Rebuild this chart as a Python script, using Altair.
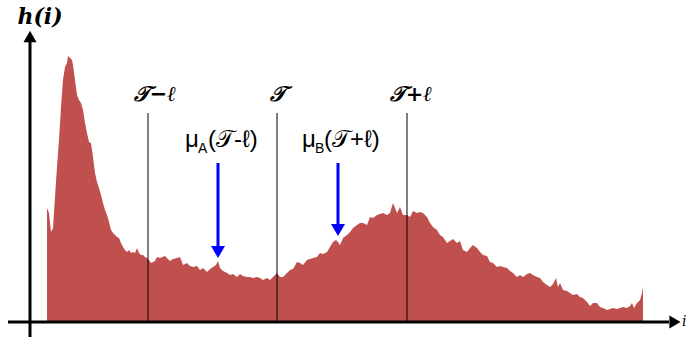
import altair as alt
import pandas as pd

# Histogram h(i): intensity level and count (arbitrary units)
intensity = [0, 2, 4, 6, 8, 10, 12, 14, 16, 18, 20, 21, 23, 25, 26, 28, 30, 32, 34, 36,
             38, 40, 42, 44, 46, 48, 50, 52, 54, 56, 58, 60, 62, 64, 66, 68, 70, 72, 74, 76,
             78, 80, 82, 84, 86, 88, 90, 92, 94, 96, 98, 100, 102, 104, 106, 108, 110, 113, 118, 123,
             126, 130, 133, 136, 140, 143, 146, 150, 153, 156, 160, 163, 166, 169, 171, 173, 176, 180, 183, 186,
             190, 193, 196, 200, 203, 206, 210, 213, 216, 220, 223, 226, 230, 233, 236, 240, 243, 246, 250, 253,
             256, 260, 263, 266, 270, 273, 276, 280, 283, 286, 289, 291, 293, 296, 300, 303, 306, 310, 313, 316,
             320, 323, 326, 330, 333, 336, 340, 343, 346, 350, 353, 356, 360, 363, 366, 370, 373, 376, 380, 383,
             386, 390, 393, 396, 400, 403, 406, 410, 413, 416, 420, 423, 426, 430, 433, 436, 440, 443, 446, 450,
             453, 456, 460, 463, 466, 470, 473, 476, 480, 483, 486, 490, 493, 496, 500, 503, 506, 509, 511, 513,
             516, 520, 523, 526, 530, 533, 536, 540, 543, 546, 550, 553, 556, 560, 563, 566, 570, 573, 576, 580,
             583, 585, 587, 590, 593, 595, 596]
counts = [114, 109, 90, 94, 125, 155, 182, 215, 242, 255, 259, 266, 264, 262, 257, 242, 227, 222, 219, 212,
          199, 189, 180, 179, 165, 149, 140, 134, 127, 119, 112, 107, 100, 92, 89, 87, 85, 84, 79, 75,
          72, 70, 72, 69, 70, 69, 74, 69, 67, 67, 65, 64, 62, 59, 60, 61, 65, 64, 66, 61,
          63, 64, 65, 57, 59, 56, 55, 56, 52, 54, 50, 53, 55, 57, 61, 54, 51, 49, 47, 48,
          45, 48, 46, 45, 45, 44, 45, 44, 42, 44, 42, 45, 49, 45, 45, 49, 52, 53, 60, 59,
          57, 62, 63, 64, 65, 69, 68, 70, 75, 80, 82, 80, 77, 84, 87, 90, 94, 97, 99, 99,
          97, 105, 104, 107, 108, 109, 107, 109, 119, 109, 115, 107, 107, 105, 111, 109, 110, 109, 105, 99,
          95, 92, 87, 85, 79, 81, 83, 79, 81, 72, 70, 74, 77, 74, 70, 67, 66, 60, 59, 55,
          56, 55, 54, 51, 49, 45, 47, 45, 48, 49, 47, 45, 44, 40, 37, 35, 38, 44, 35, 39,
          32, 31, 29, 27, 28, 25, 24, 20, 16, 19, 19, 15, 14, 12, 13, 14, 13, 14, 15, 14,
          16, 19, 14, 19, 22, 29, 35]

# Thresholds T-l, T, T+l
thr_labels = ["𝒯−ℓ", "𝒯", "𝒯+ℓ"]
thr_pos = [101, 230, 360]
thr_label_pos = [108, 231, 364]
thr_top = 209
thr_label_h = 227

# Means mu_A(T-l), mu_B(T+l)
mu_pos = [171, 291]
mu_tip = [70, 92]
mu_top = 159
mu_sub = ["A", "B"]
mu_arg = ["(𝒯-ℓ)", "(𝒯+ℓ)"]
mu_x = [138, 255]
mu_sub_x = [151, 268]
mu_arg_x = [161, 277]

xs = alt.Scale(domain=[-47, 639], nice=False, zero=False)
ys = alt.Scale(domain=[-18, 322], nice=False, zero=False)

hist = pd.DataFrame({"i": intensity, "h": counts})
thr = pd.DataFrame({"label": thr_labels, "x": thr_pos, "lx": thr_label_pos,
                    "y0": [0] * 3, "y1": [thr_top] * 3, "ly": [thr_label_h] * 3})
mu = pd.DataFrame({"x": mu_pos, "tip": mu_tip, "top": [mu_top] * 2, "sub": mu_sub,
                   "arg": mu_arg, "mx": mu_x, "sx": mu_sub_x, "ax": mu_arg_x,
                   "my": [182, 182], "sy": [173, 173]})

area = alt.Chart(hist).mark_area(color="#C0504D", interpolate="linear").encode(
    x=alt.X("i:Q", scale=xs, axis=None),
    y=alt.Y("h:Q", scale=ys, axis=None),
)

rules = alt.Chart(thr).mark_rule(color="black", strokeWidth=1).encode(
    x=alt.X("x:Q", scale=xs), y=alt.Y("y0:Q", scale=ys), y2="y1:Q")
rlabels = alt.Chart(thr).mark_text(font="DejaVu Serif", fontStyle="italic", fontWeight="bold",
                                   fontSize=21, baseline="middle", align="center",
                                   color="black").encode(
    x=alt.X("lx:Q", scale=xs), y=alt.Y("ly:Q", scale=ys), text="label:N")

shafts = alt.Chart(mu).mark_rule(color="#0000FF", strokeWidth=3).encode(
    x=alt.X("x:Q", scale=xs), y=alt.Y("top:Q", scale=ys), y2="tip:Q")
heads = alt.Chart(mu).mark_point(shape="triangle-down", size=196, filled=True,
                                 color="#0000FF", opacity=1).encode(
    x=alt.X("x:Q", scale=xs), y=alt.Y("tip:Q", scale=ys))
mu_t = alt.Chart(mu).mark_text(font="Liberation Sans", fontSize=24, align="left",
                               baseline="middle", color="black").encode(
    x=alt.X("mx:Q", scale=xs), y=alt.Y("my:Q", scale=ys), text=alt.value("μ"))
sub_t = alt.Chart(mu).mark_text(font="Liberation Sans", fontSize=14, align="left",
                                baseline="middle", color="black").encode(
    x=alt.X("sx:Q", scale=xs), y=alt.Y("sy:Q", scale=ys), text="sub:N")
arg_t = alt.Chart(mu).mark_text(font="Liberation Sans", fontSize=24, align="left",
                                baseline="middle", color="black").encode(
    x=alt.X("ax:Q", scale=xs), y=alt.Y("my:Q", scale=ys), text="arg:N")

# axes with arrowheads
axes_df = pd.DataFrame({"k": [0]})
yaxis = alt.Chart(axes_df).mark_rule(color="black", strokeWidth=3).encode(
    x=alt.datum(-17, scale=xs), y=alt.datum(-15, scale=ys), y2=alt.datum(280))
xaxis = alt.Chart(axes_df).mark_rule(color="black", strokeWidth=3).encode(
    y=alt.datum(0, scale=ys), x=alt.datum(-39, scale=xs), x2=alt.datum(622))
yhead = alt.Chart(axes_df).mark_point(shape="triangle-up", size=169, filled=True,
                                      color="black", opacity=1).encode(
    x=alt.datum(-17, scale=xs), y=alt.datum(285.5, scale=ys))
xhead = alt.Chart(axes_df).mark_point(shape="triangle-right", size=169, filled=True,
                                      color="black", opacity=1).encode(
    x=alt.datum(628, scale=xs), y=alt.datum(0, scale=ys))
ytitle = alt.Chart(axes_df).mark_text(font="DejaVu Serif", fontStyle="italic", fontWeight="bold",
                                      fontSize=22, align="center", baseline="middle",
                                      color="black").encode(
    x=alt.datum(-7, scale=xs), y=alt.datum(305, scale=ys), text=alt.value("h(i)"))
xtitle = alt.Chart(axes_df).mark_text(font="DejaVu Serif", fontStyle="italic", fontSize=14,
                                      align="left", baseline="middle", color="black").encode(
    x=alt.datum(635, scale=xs), y=alt.datum(0, scale=ys), text=alt.value("i"))

chart = alt.layer(area, rules, shafts, heads, rlabels, mu_t, sub_t, arg_t,
                  yaxis, xaxis, yhead, xhead, ytitle, xtitle).properties(
    width=686, height=340, padding=0, autosize=alt.AutoSizeParams(type="none")
).configure_view(stroke=None)

chart.save("out.html", embed_options={"renderer": "svg", "actions": False})
